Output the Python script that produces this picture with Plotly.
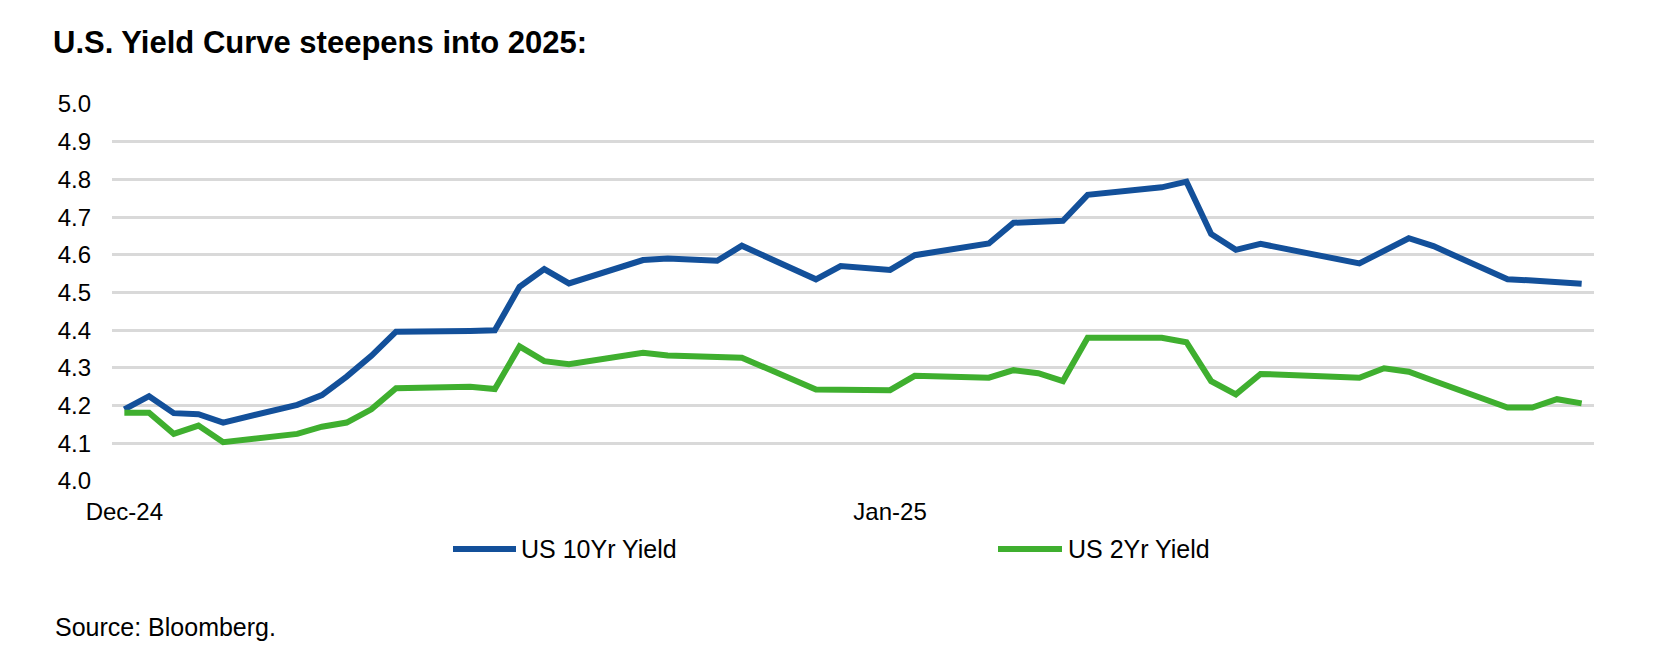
import plotly.graph_objects as go

# ---- data ----
dates = [
    "2024-12-02", "2024-12-03", "2024-12-04", "2024-12-05", "2024-12-06",
    "2024-12-09", "2024-12-10", "2024-12-11", "2024-12-12", "2024-12-13",
    "2024-12-16", "2024-12-17", "2024-12-18", "2024-12-19", "2024-12-20",
    "2024-12-23", "2024-12-24", "2024-12-26", "2024-12-27",
    "2024-12-30", "2024-12-31", "2025-01-02", "2025-01-03",
    "2025-01-06", "2025-01-07", "2025-01-08", "2025-01-09", "2025-01-10",
    "2025-01-13", "2025-01-14", "2025-01-15", "2025-01-16", "2025-01-17",
    "2025-01-21", "2025-01-22", "2025-01-23", "2025-01-24",
    "2025-01-27", "2025-01-28", "2025-01-29", "2025-01-30",
]
us10 = [
    4.190, 4.225, 4.180, 4.177, 4.155,
    4.202, 4.228, 4.277, 4.332, 4.396,
    4.398, 4.400, 4.515, 4.562, 4.524,
    4.586, 4.590, 4.584, 4.624,
    4.535, 4.570, 4.560, 4.599,
    4.630, 4.685, 4.687, 4.690, 4.759,
    4.779, 4.794, 4.655, 4.613, 4.629,
    4.577, 4.610, 4.644, 4.623,
    4.535, 4.532, 4.528, 4.523,
]
us2 = [
    4.181, 4.181, 4.125, 4.147, 4.103,
    4.125, 4.144, 4.155, 4.190, 4.246,
    4.250, 4.244, 4.357, 4.318, 4.310,
    4.340, 4.333, 4.330, 4.327,
    4.243, 4.243, 4.241, 4.279,
    4.274, 4.294, 4.286, 4.265, 4.380,
    4.380, 4.368, 4.265, 4.230, 4.284,
    4.274, 4.299, 4.290, 4.266,
    4.195, 4.195, 4.217, 4.206,
]
series_names = ["US 10Yr Yield", "US 2Yr Yield"]
x_tick_vals = ["2024-12-02", "2025-01-02"]
x_tick_text = ["Dec-24", "Jan-25"]
title_text = "U.S. Yield Curve steepens into 2025:"
source_text = "Source: Bloomberg."

BLUE = "#13509A"
GREEN = "#3FAF2F"
GRID = "#D9D9D9"
FONT = "Liberation Sans, Arial, sans-serif"

# page has an 8px body margin; work in page pixels and subtract it
OFF = 8
W, H = 1660 - OFF, 662 - OFF
PL, PR, PT, PB = 112, 1594, 104, 481      # plot area in page pixels
L, T = PL - OFF, PT - OFF
R = W - (PR - OFF)
B = H - (PB - OFF)
PW = PR - PL
PH = PB - PT

fig = go.Figure()
fig.add_trace(go.Scatter(x=dates, y=us10, mode="lines", name=series_names[0],
                         line=dict(color=BLUE, width=6), showlegend=False))
fig.add_trace(go.Scatter(x=dates, y=us2, mode="lines", name=series_names[1],
                         line=dict(color=GREEN, width=6), showlegend=False))

def px_x(p):
    return (p - PL) / PW

def px_y(p):
    return (PB - p) / PH

# manual legend (long line keys as in reference)
legend_items = [(453, 516, 519, BLUE, series_names[0]),
                (998, 1062, 1066, GREEN, series_names[1])]
ly = 549
for x0, x1, tx, col, name in legend_items:
    fig.add_shape(type="line", xref="paper", yref="paper",
                  x0=px_x(x0), x1=px_x(x1), y0=px_y(ly), y1=px_y(ly),
                  line=dict(color=col, width=6))
    fig.add_annotation(xref="paper", yref="paper", x=px_x(tx), y=px_y(ly),
                       xanchor="left", yanchor="middle", showarrow=False,
                       text=name, font=dict(family=FONT, size=25, color="#000000"))

fig.add_annotation(xref="paper", yref="paper", x=px_x(53), y=px_y(627),
                   xanchor="left", yanchor="middle", showarrow=False,
                   text=source_text, font=dict(family=FONT, size=25, color="#000000"))

fig.update_layout(
    width=W, height=H,
    margin=dict(l=L, r=R, t=T, b=B),
    paper_bgcolor="white", plot_bgcolor="white",
    font=dict(family=FONT, size=24, color="#000000"),
    title=dict(text="<b>" + title_text + "</b>", xref="container", yref="container",
               x=(53 - OFF) / W, y=1 - (42 - OFF) / H, xanchor="left", yanchor="middle",
               font=dict(family=FONT, size=31, color="#000000")),
    xaxis=dict(type="date", range=["2024-12-01 12:00", "2025-01-30 12:00"],
               tickmode="array", tickvals=x_tick_vals, ticktext=x_tick_text,
               showgrid=False, zeroline=False, showline=False, ticks="",
               ticklabelstandoff=14, tickfont=dict(size=24)),
    yaxis=dict(range=[4.0, 5.0], dtick=0.1, tick0=4.0, tickformat=".1f",
               showgrid=True, gridcolor=GRID, gridwidth=3, zeroline=False,
               showline=False, ticks="", ticklabelstandoff=20,
               tickfont=dict(size=24)),
)

fig.write_html("out.html")
